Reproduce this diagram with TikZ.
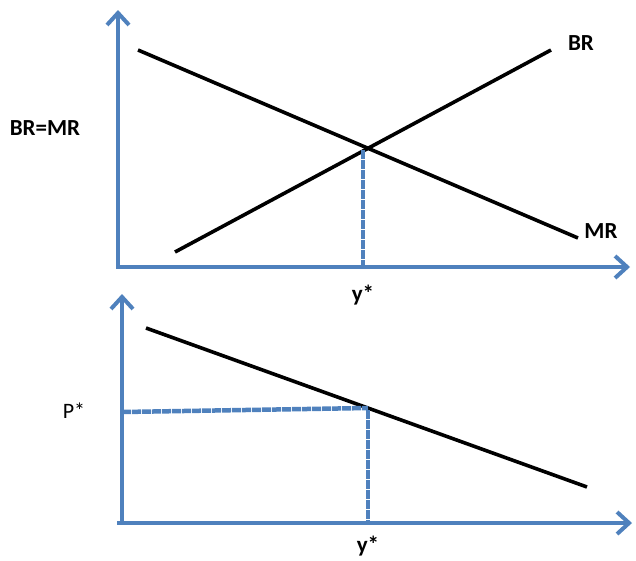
\documentclass[tikz,border=0pt]{standalone}
\usepackage{fontspec}
\setmainfont{Carlito}
\usetikzlibrary{arrows.meta}
\definecolor{axisblue}{HTML}{4F81BD}
\begin{document}
\begin{tikzpicture}[x=1pt,y=-1pt,line cap=butt,
  axis/.style={draw=axisblue,line width=4pt,-{Straight Barb[length=12pt,width=22pt,line width=4pt]}},
  guide/.style={draw=axisblue,line width=4.5pt,dash pattern=on 9pt off 1pt},
  curve/.style={draw=black,line width=3.6pt},
  lbl/.style={font=\fontsize{23}{26}\selectfont\bfseries,inner sep=0pt}]
  \useasboundingbox (0,0) rectangle (636,560);
  % upper panel
  \coordinate (O1) at (118,267);
  \coordinate (Y1) at (118,10);
  \coordinate (X1) at (630,267);
  \draw[axis] (O1) -- (Y1);
  \draw[axis] ([xshift=-2pt]O1) -- (X1);
  \coordinate (MRa) at (138,50);
  \coordinate (MRb) at (578,238);
  \coordinate (BRa) at (175,252);
  \coordinate (BRb) at (551,50);
  \draw[curve] (MRa) -- (MRb);
  \draw[curve] (BRa) -- (BRb);
  \coordinate (E1) at (363,150);
  \coordinate (E1x) at (363,267);
  \draw[guide] (E1) -- (E1x);
  \node[lbl] (brmr) at (45,128) {BR=MR};
  \node[lbl] (br) at (581,43) {BR};
  \node[lbl] (mr) at (601,231) {MR};
  \node[lbl] (ystar1) at (363,295) {y*};
  % lower panel
  \coordinate (O2) at (122,523);
  \coordinate (Y2) at (122,294);
  \coordinate (X2) at (632,523);
  \draw[axis] (O2) -- (Y2);
  \draw[axis] ([xshift=-5pt]O2) -- (X2);
  \coordinate (Da) at (146,328);
  \coordinate (Db) at (587,487);
  \draw[curve] (Da) -- (Db);
  \coordinate (E2) at (368,408);
  \coordinate (E2x) at (368,523);
  \coordinate (P2) at (122,412);
  \draw[guide] (P2) -- (E2);
  \draw[guide] ([yshift=-2pt]E2) -- (E2x);
  \node[lbl,font=\fontsize{22}{26}\selectfont] (pstar) at (74,411) {P*};
  \node[lbl] (ystar2) at (368,546) {y*};
\end{tikzpicture}
\end{document}
